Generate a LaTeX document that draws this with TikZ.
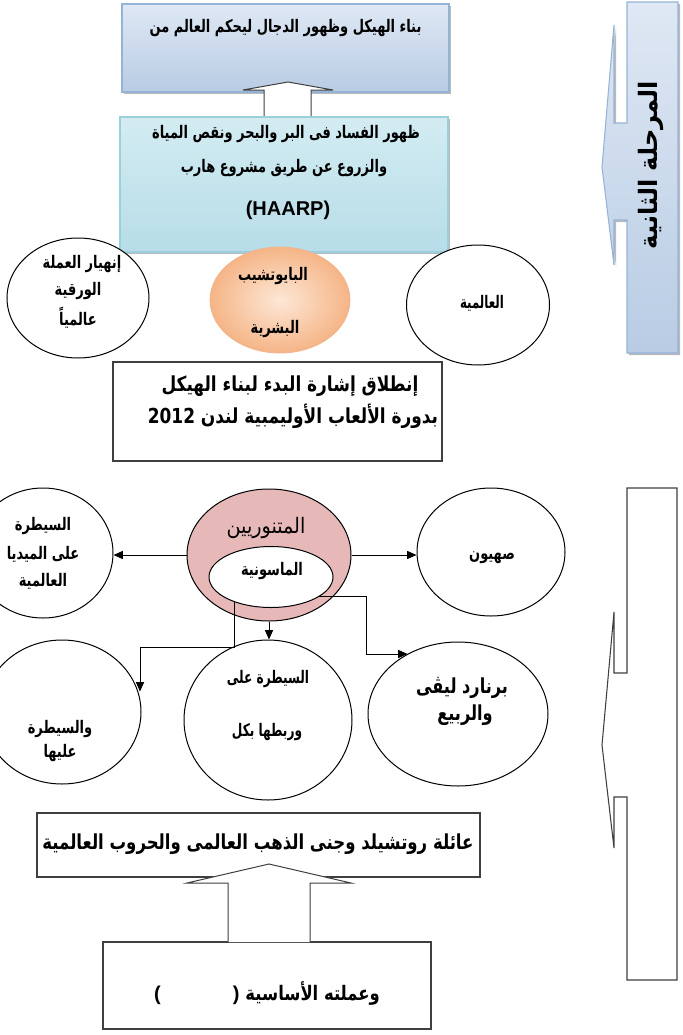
\documentclass[tikz,border=0pt]{standalone}
\usepackage{fontspec}
\setmainfont{Liberation Sans}
\newfontfamily\arabicfont[Script=Arabic]{DejaVu Sans}
\TeXXeTstate=1
\usetikzlibrary{shapes.geometric,arrows.meta,shadows,fit,calc}
% right-to-left text, narrowed horizontally
\newcommand{\ar}[2][0.75]{\scalebox{#1}[1]{\beginR#2\endR}}
\definecolor{TopA}{HTML}{DFE8F4}
\definecolor{TopB}{HTML}{B8CCE4}
\definecolor{TopLine}{HTML}{95B3D7}
\definecolor{TealA}{HTML}{D3ECF2}
\definecolor{TealB}{HTML}{B7DDE8}
\definecolor{TealLine}{HTML}{9CCFDC}
\definecolor{OrIn}{HTML}{FDE7D6}
\definecolor{OrOut}{HTML}{F5B587}
\definecolor{OrLine}{HTML}{F2B48A}
\definecolor{Pink}{HTML}{E6B9B8}
\definecolor{DarkLine}{HTML}{3F3F3F}
\begin{document}
\begin{tikzpicture}[x=0.75pt,y=-0.75pt,
  ell/.style={ellipse, draw=black, line width=0.75pt, inner sep=0pt, fill=white},
  txt/.style={inner sep=0pt, font=\arabicfont\bfseries\fontsize{13}{15}\selectfont},
  bigtxt/.style={inner sep=0pt, font=\arabicfont\bfseries\fontsize{15.5}{17}\selectfont},
  arr/.style={draw=black, line width=0.75pt, -{Triangle[length=7pt,width=6pt]}},
  blockarrow/.style={draw=DarkLine, fill=white, line width=0.75pt},
  plainbox/.style={draw=DarkLine, line width=0.8pt, inner sep=0pt},
  softshadow/.style={drop shadow={shadow xshift=1.5pt, shadow yshift=-1.5pt, opacity=0.45, fill=black!60}},
]
\useasboundingbox (0,0) rectangle (682,1035);

% ---------- upper stage ----------
\node[fit={(122,4) (449,92)}, inner sep=0pt, draw=TopLine, line width=0.8pt,
      top color=TopA, bottom color=TopB, softshadow] (topbox) {};
\draw[blockarrow] (264,118) -- (264,90) -- (243,90) -- (288,82) -- (333,90) -- (311,90) -- (311,118);
\node[fit={(120,117) (448,252)}, inner sep=0pt, draw=TealLine, line width=0.8pt,
      top color=TealA, bottom color=TealB, softshadow] (tealbox) {};

\node[txt] (ttop) at (285.5,28) {\ar{بناء الهيكل وظهور الدجال ليحكم العالم من}};
\node[txt] (tteal1) at (286,134) {\ar{ظهور الفساد فى البر والبحر ونقص المياة}};
\node[txt] (tteal2) at (284,168) {\ar{والزروع عن طريق مشروع هارب}};
\node[inner sep=0pt, font=\bfseries\fontsize{15}{17}\selectfont] (tharp) at (288,210) {(HAARP)};

\node[ellipse, minimum width=140*0.75pt, minimum height=106*0.75pt, inner sep=0pt,
      inner color=OrIn, outer color=OrOut, draw=OrLine, line width=0.6pt] (chip) at (280,300) {};
\node[txt] (tchip1) at (273,276) {\ar{البايوتشيب}};
\node[txt] (tchip2) at (275,329) {\ar{البشرية}};

\node[ell, minimum width=142*0.75pt, minimum height=120*0.75pt] (paper) at (78,298) {};
\node[txt] (tpaper1) at (82,264) {\ar{إنهيار العملة}};
\node[txt] (tpaper2) at (78,291) {\ar{الورقية}};
\node[txt] (tpaper3) at (78,318) {\ar{عالمياً}};

\node[ell, minimum width=143*0.75pt, minimum height=120*0.75pt] (global) at (478,305) {};
\node[txt] (tglobal) at (482,303) {\ar[0.68]{العالمية}};

\node[fit={(113,362) (442,461)}, plainbox] (olymp) {};
\node[bigtxt] (tolymp1) at (290,386) {\ar[0.82]{إنطلاق إشارة البدء لبناء الهيكل}};
\node[bigtxt] (tolymp2) at (293,416) {\ar[0.82]{بدورة الألعاب الأوليمبية لندن \beginL2012\endL}};

% ---------- side banners ----------
\path[draw=TopLine, line width=0.8pt, top color=TopA, bottom color=TopB, softshadow]
  (627,2) -- (678,2) -- (678,353) -- (627,353) -- (627,220) -- (614,220) -- (614,265)
  -- (602,167) -- (614,25) -- (614,123) -- (627,123) -- cycle;
\node[rotate=90, inner sep=0pt, font=\arabicfont\bfseries\fontsize{19}{21}\selectfont] (stage) at (651,165) {\ar[0.95]{المرحلة الثانية}};

\draw[DarkLine, line width=0.8pt]
  (627,488) -- (677,488) -- (677,980) -- (627,980) -- (627,797) -- (614,797) -- (614,848)
  -- (602,745) -- (614,612) -- (614,673) -- (627,673) -- cycle;

% ---------- lower stage ----------
\node[ell, minimum width=140*0.75pt, minimum height=130*0.75pt] (media) at (43,553) {};
\node[txt] (tmedia1) at (43,526) {\ar{السيطرة}};
\node[txt] (tmedia2) at (43,554) {\ar{على الميديا}};
\node[txt] (tmedia3) at (43,581) {\ar{العالمية}};

\node[ell, minimum width=148*0.75pt, minimum height=128*0.75pt] (zion) at (491,552) {};
\node[txt] (tzion) at (492,558) {\ar{صهيون}};

\node[ell, fill=Pink, minimum width=164*0.75pt, minimum height=132*0.75pt] (illum) at (269,555) {};
\node[inner sep=0pt, font=\arabicfont\fontsize{16}{18}\selectfont] (tillum) at (266,528) {\ar[0.9]{المتنوريين}};
\node[ell, minimum width=124*0.75pt, minimum height=61*0.75pt] (mason) at (271,577) {};
\node[txt] (tmason) at (272,571) {\ar{الماسونية}};

\node[ell, minimum width=158*0.75pt, minimum height=144*0.75pt] (ctl) at (62,712) {};
\node[txt] (tctl1) at (60,729) {\ar{والسيطرة}};
\node[txt] (tctl2) at (60,753) {\ar{عليها}};

\node[ell, minimum width=168*0.75pt, minimum height=160*0.75pt] (link) at (268,720) {};
\node[txt] (tlink1) at (268,679) {\ar[0.7]{السيطرة على}};
\node[txt] (tlink2) at (267,732) {\ar[0.7]{وربطها بكل}};

\node[ell, minimum width=180*0.75pt, minimum height=144*0.75pt] (levy) at (458,714) {};
\node[bigtxt] (tlevy1) at (462,688) {\ar[0.78]{برنارد ليڤى}};
\node[bigtxt] (tlevy2) at (465,715) {\ar[0.78]{والربيع}};

% connectors from the Illuminati ellipse
\draw[arr] (illum.west) -- (illum.west -| media.east);
\draw[arr] (illum.east) -- (illum.east -| zion.west);
\draw[arr] (illum.south) -- (illum.south |- link.north);
\coordinate (elbowL) at (140,647);
\draw[arr] (mason.215) |- (elbowL) -- (ctl.15 -| elbowL);
\coordinate (elbowR) at (366,654);
\draw[arr] (mason.-22) -| (elbowR) -- (elbowR -| levy.130);

\node[fit={(37,813) (480,877)}, plainbox] (roth) {};
\node[bigtxt] (troth) at (258,844) {\ar[0.8]{عائلة روتشيلد وجنى الذهب العالمى والحروب العالمية}};

\node[fit={(103,942) (431,1029)}, plainbox] (curr) {};
\draw[blockarrow] (228,942) -- (228,883) -- (187,883) -- (269,864) -- (351,883) -- (310,883) -- (310,942);
\node[inner sep=0pt, font=\bfseries\fontsize{15}{17}\selectfont] (tcurr) at (267,993)
  {(\hspace{3.6em})\hspace{0.3em}{\arabicfont\ar[0.82]{وعملته الأساسية}}};
\end{tikzpicture}
\end{document}
